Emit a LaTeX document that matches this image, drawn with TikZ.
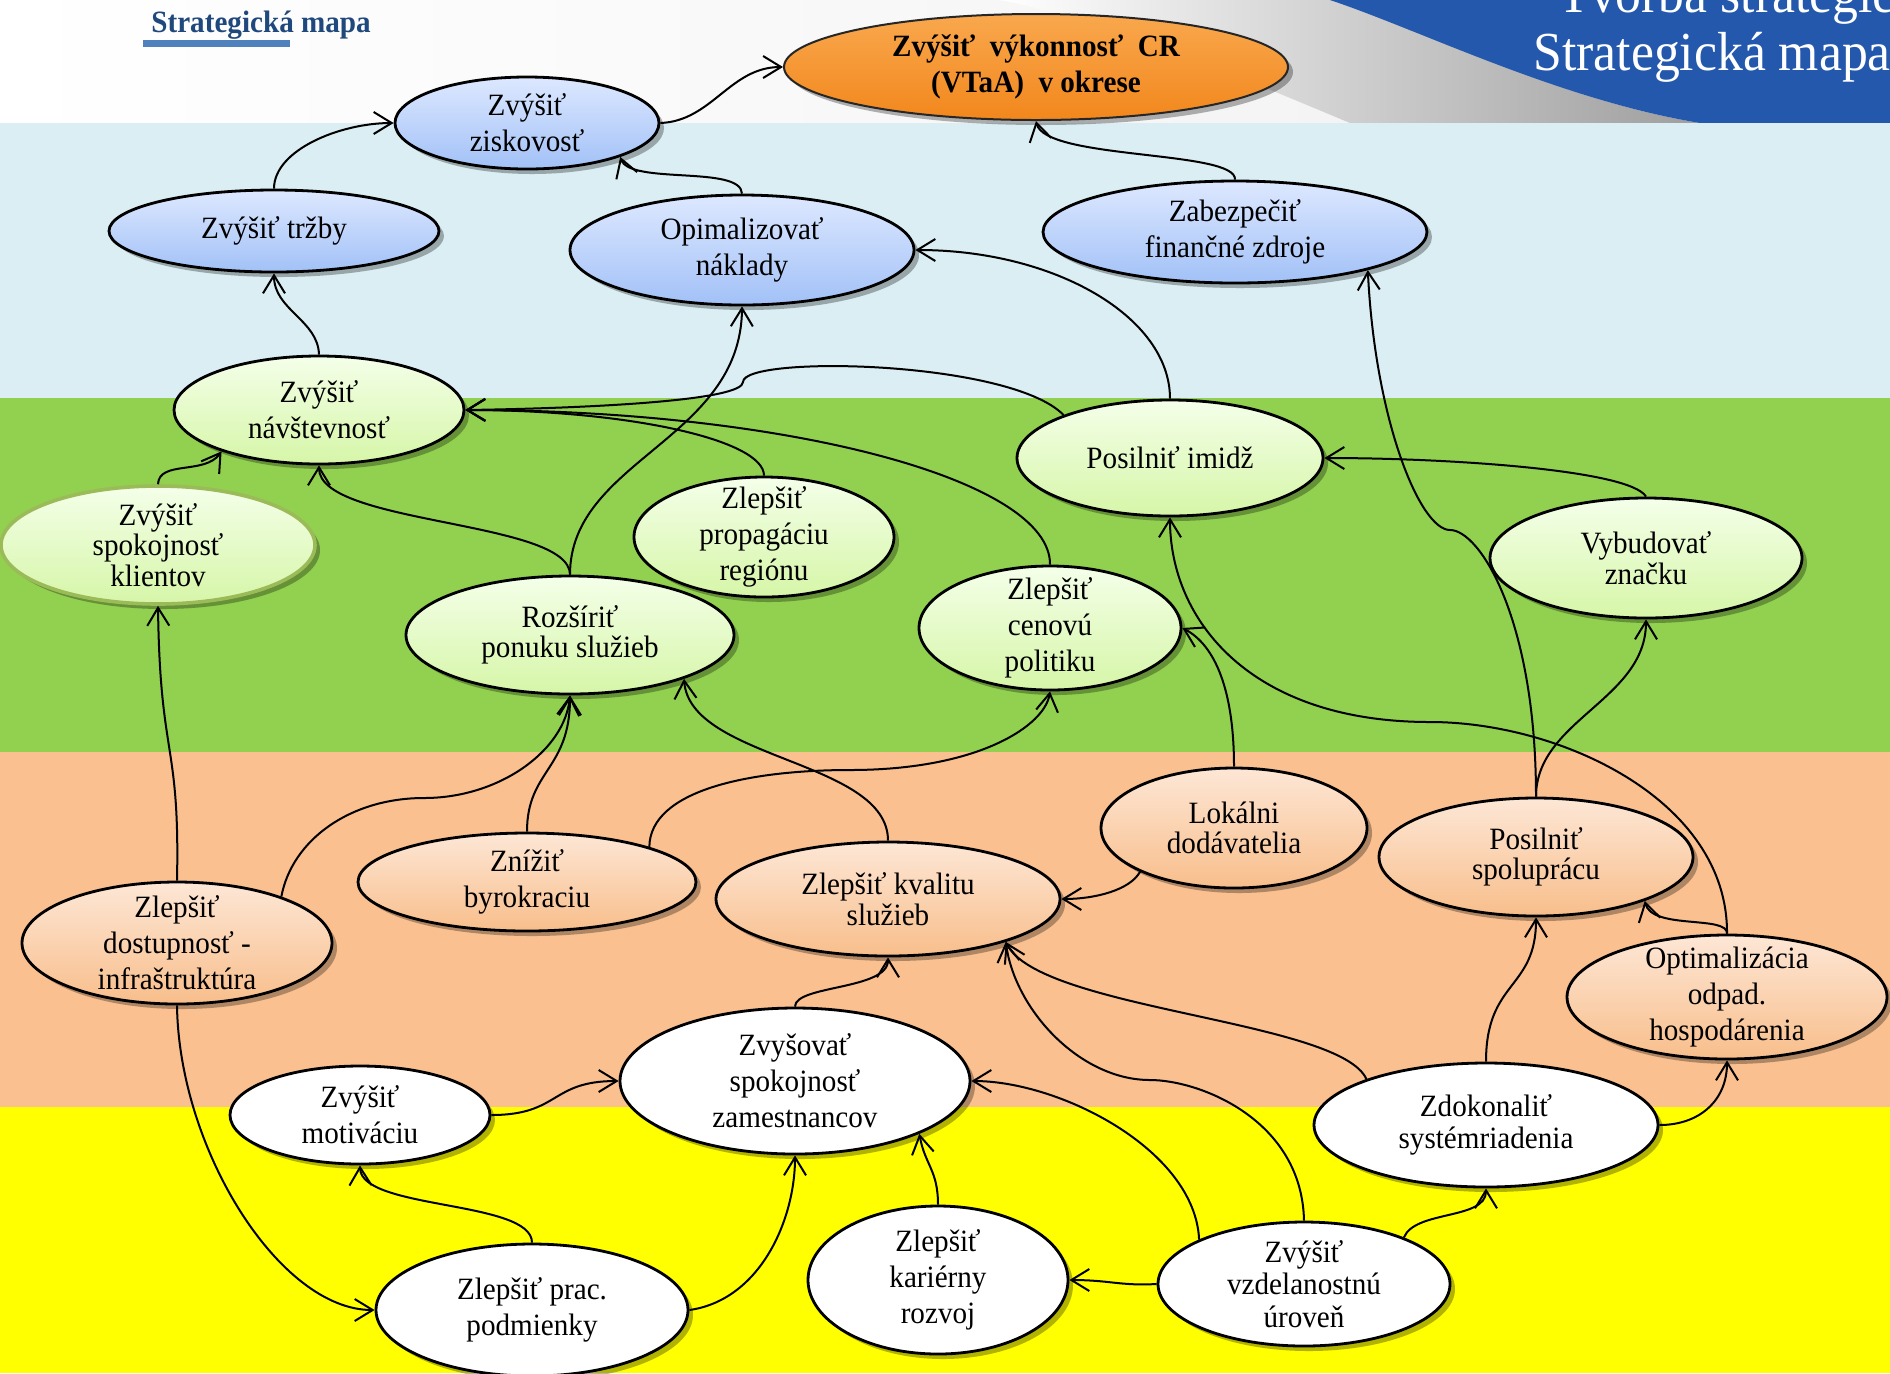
\documentclass[tikz,border=0pt]{standalone}
\usepackage{fontspec}
\setmainfont{Liberation Serif}[FakeStretch=0.94]
\usetikzlibrary{arrows.meta,shadows,shapes.geometric}
\definecolor{bandblue}{HTML}{DAEEF3}
\definecolor{bandgreen}{HTML}{92D050}
\definecolor{bandorange}{HTML}{FAC090}
\definecolor{bandyellow}{HTML}{FFFF00}
\definecolor{swooshblue}{HTML}{2358AC}
\definecolor{titleblue}{HTML}{1F497D}
\definecolor{barblue}{HTML}{4F81BD}
\definecolor{blueT}{HTML}{DDE8FF}
\definecolor{blueB}{HTML}{A2C1F7}
\definecolor{greenT}{HTML}{F4FFE9}
\definecolor{greenB}{HTML}{D6F6A8}
\definecolor{orT}{HTML}{FDE7D6}
\definecolor{orB}{HTML}{F8BE8B}
\definecolor{topT}{HTML}{F9A84E}
\definecolor{topB}{HTML}{F2871C}
\definecolor{olivebd}{HTML}{9BBB59}
\newcommand\nodefnt{\fontsize{15.5}{18}\selectfont}
\tikzset{
  goal/.style={ellipse, draw=black, line width=1.4pt, inner sep=-15pt, align=center,
    font=\nodefnt, text=black,
    drop shadow={shadow xshift=2.5pt, shadow yshift=-2.5pt, opacity=0.3, fill=black}},
  bluegoal/.style={goal, top color=blueT, bottom color=blueB},
  greengoal/.style={goal, top color=greenT, bottom color=greenB},
  orangegoal/.style={goal, top color=orT, bottom color=orB},
  whitegoal/.style={goal, fill=white},
  sz/.style 2 args={minimum width=#1pt, minimum height=#2pt},
  link/.style={line width=1pt, -{Straight Barb[length=9pt,width=11pt]}},
}
\begin{document}
\begin{tikzpicture}[x=0.5pt,y=-0.5pt]
\useasboundingbox (0,0) rectangle (1890,1373);
\clip (0,0) rectangle (1890,1373);
% header
\shade[left color=white, right color=black!6] (0,0) rectangle (1890,123);
\shade[left color=white, right color=black!38] (1000,0) -- (1345,0) .. controls (1420,30) and (1560,100) .. (1700,123) -- (1350,123) .. controls (1200,60) and (1100,20) .. (1000,0) -- cycle;
\fill[swooshblue] (1330,0) .. controls (1420,30) and (1560,100) .. (1700,123) -- (1890,123) -- (1890,0) -- cycle;
% bands
\fill[bandblue] (0,123) rectangle (1890,398);
\fill[bandgreen] (0,398) rectangle (1890,752);
\fill[bandorange] (0,752) rectangle (1890,1107);
\fill[bandyellow] (0,1107) rectangle (1890,1373);
% titles
\node[anchor=base west, inner sep=0, text=titleblue, font=\fontsize{15.5}{18}\selectfont\bfseries] (hdr) at (151,32) {Strategická mapa};
\fill[barblue] (143,40) rectangle (290,47);
\node[anchor=base west, inner sep=0, text=white, font=\fontsize{27.5}{30}\selectfont] (ttlA) at (1558,12) {Tvorba stratégie};
\node[anchor=base west, inner sep=0, text=white, font=\fontsize{27.5}{30}\selectfont] (ttlB) at (1533,70) {Strategická mapa};

% nodes
\node[goal, draw=black!85, line width=1pt, top color=topT, bottom color=topB, font=\nodefnt\bfseries, sz={252}{53}] (top) at (1036,67) {Zvýšiť~ výkonnosť~ CR\\(VTaA)~ v okrese};
\node[bluegoal, sz={132}{46}] (zisk) at (527,123) {Zvýšiť\\ziskovosť};
\node[bluegoal, sz={165}{41}] (trzby) at (274,231) {Zvýšiť tržby};
\node[bluegoal, sz={172}{55}] (nak) at (742,250) {Opimalizovať\\náklady};
\node[bluegoal, sz={192}{51}] (zab) at (1235,232) {Zabezpečiť\\finančné zdroje};
\node[greengoal, sz={145}{54}] (nav) at (319,410) {Zvýšiť\\návštevnosť};
\node[greengoal, draw=olivebd, line width=1.8pt, sz={157}{59}] (klient) at (158,545) {Zvýšiť\\[-2.6pt]spokojnosť\\[-2.6pt]klientov};
\node[greengoal, sz={164}{59}] (roz) at (570,635) {Rozšíriť\\[-3.3pt]ponuku služieb};
\node[greengoal, sz={130}{60}] (prop) at (764,537) {Zlepšiť\\propagáciu\\regiónu};
\node[greengoal, sz={153}{58}] (imidz) at (1170,458) {Posilniť imidž};
\node[greengoal, sz={156}{60}] (vyb) at (1646,558) {Vybudovať\\[-2.3pt]značku};
\node[greengoal, sz={131}{62}] (cen) at (1050,628) {Zlepšiť\\cenovú\\politiku};
\node[orangegoal, sz={155}{61}] (dost) at (177,943) {Zlepšiť\\dostupnosť -\\infraštruktúra};
\node[orangegoal, sz={169}{49}] (byr) at (527,882) {Znížiť\\byrokraciu};
\node[orangegoal, sz={172}{57}] (kval) at (888,899) {Zlepšiť kvalitu\\[-2.5pt]služieb};
\node[orangegoal, sz={133}{60}] (lok) at (1234,828) {Lokálni\\[-3pt]dodávatelia};
\node[orangegoal, sz={157}{59}] (spol) at (1536,857) {Posilniť\\[-3pt]spoluprácu};
\node[orangegoal, sz={160}{62}] (opt) at (1727,997) {Optimalizácia\\odpad.\\hospodárenia};
\node[whitegoal, sz={175}{73}] (zam) at (795,1081) {Zvyšovať\\spokojnosť\\zamestnancov};
\node[whitegoal, sz={130}{49}] (motiv) at (360,1115) {Zvýšiť\\motiváciu};
\node[whitegoal, sz={156}{66}] (prac) at (532,1310) {Zlepšiť prac.\\podmienky};
\node[whitegoal, sz={130}{74}] (kar) at (938,1280) {Zlepšiť\\kariérny\\rozvoj};
\node[whitegoal, sz={146}{62}] (vzd) at (1304,1284) {Zvýšiť\\[-1.7pt]vzdelanostnú\\[-1.7pt]úroveň};
\node[whitegoal, sz={172}{62}] (zdok) at (1486,1125) {Zdokonaliť\\[-1.7pt]systémriadenia};

% connectors
\draw[link] (zisk.east) .. controls (712,121) and (730,67) .. (top.west);
\draw[link] (trzby.north) .. controls (274,150) and (340,123) .. (zisk.west);
\draw[link] (nak.north) .. controls (741,165) and (630,185) .. (zisk.-20);
\draw[link] (zab.north) .. controls (1237,150) and (1045,160) .. (top.south);
\draw[link] (nav.north) .. controls (318,320) and (274,310) .. (trzby.south);
\draw[link] (klient.north) .. controls (159,460) and (205,475) .. (nav.-157);
\draw[link] (roz.north) .. controls (570,520) and (319,525) .. (nav.south);
\draw[link] (roz.north) .. controls (570,460) and (741,440) .. (nak.south);
\draw[link] (prop.north) .. controls (764,440) and (629,410) .. (nav.east);
\draw[link] (cen.north) .. controls (1051,480) and (788,410) .. (nav.east);
\draw[link] (imidz.north) .. controls (1170,317) and (1055,250) .. (nak.east);
\draw[link] (imidz.158) .. controls (1010,360) and (743,355) .. (743,382) .. controls (743,400) and (600,408) .. (nav.east);
\draw[link] (vyb.north) .. controls (1630,470) and (1450,458) .. (imidz.east);
\draw[link] (spol.north) .. controls (1536,720) and (1646,700) .. (vyb.south);
\draw[link] (spol.north) .. controls (1536,620) and (1480,530) .. (1450,530) .. controls (1420,530) and (1375,420) .. (zab.-16);
\draw[link] (opt.north) .. controls (1728,800) and (1560,722) .. (1430,722) .. controls (1250,722) and (1170,620) .. (imidz.south);
\draw[link] (opt.north) .. controls (1728,915) and (1652,930) .. (spol.-22);
\draw[link] (zdok.north) .. controls (1486,980) and (1536,990) .. (spol.south);
\draw[link] (zdok.east) .. controls (1700,1125) and (1727,1100) .. (opt.south);
\draw[link] (zdok.159) .. controls (1340,1020) and (1040,1010) .. (kval.-20);
\draw[link] (vzd.north) .. controls (1302,1120) and (1200,1080) .. (1150,1080) .. controls (1080,1080) and (1015,1010) .. (kval.-20);
\draw[link] (vzd.west) .. controls (1120,1286) and (1110,1280) .. (kar.east);
\draw[link] (vzd.25) .. controls (1415,1210) and (1486,1220) .. (zdok.south);
\draw[link] (vzd.157) .. controls (1195,1150) and (1060,1081) .. (zam.east);
\draw[link] (kar.north) .. controls (938,1170) and (925,1165) .. (zam.-23);
\draw[link] (prac.east) .. controls (760,1300) and (795,1220) .. (zam.south);
\draw[link] (prac.north) .. controls (532,1200) and (361,1210) .. (motiv.south);
\draw[link] (motiv.east) .. controls (560,1115) and (550,1081) .. (zam.west);
\draw[link] (dost.south) .. controls (179,1150) and (280,1310) .. (prac.west);
\draw[link] (dost.north) .. controls (180,740) and (160,760) .. (klient.south);
\draw[link] (dost.24) .. controls (292,840) and (350,798) .. (424,798) .. controls (500,798) and (565,750) .. (roz.south);
\draw[link] (byr.north) .. controls (527,770) and (570,770) .. (roz.south);
\draw[link] (byr.16) .. controls (650,790) and (750,770) .. (850,770) .. controls (980,770) and (1045,725) .. (cen.south);
\draw[link] (kval.north) .. controls (888,760) and (690,760) .. (roz.-21);
\draw[link] (lok.-155) .. controls (1130,890) and (1095,899) .. (kval.east);
\draw[link] (lok.north) .. controls (1234,690) and (1215,645) .. (cen.east);
\draw[link] (zam.north) .. controls (795,985) and (888,990) .. (kval.south);
\end{tikzpicture}
\end{document}
